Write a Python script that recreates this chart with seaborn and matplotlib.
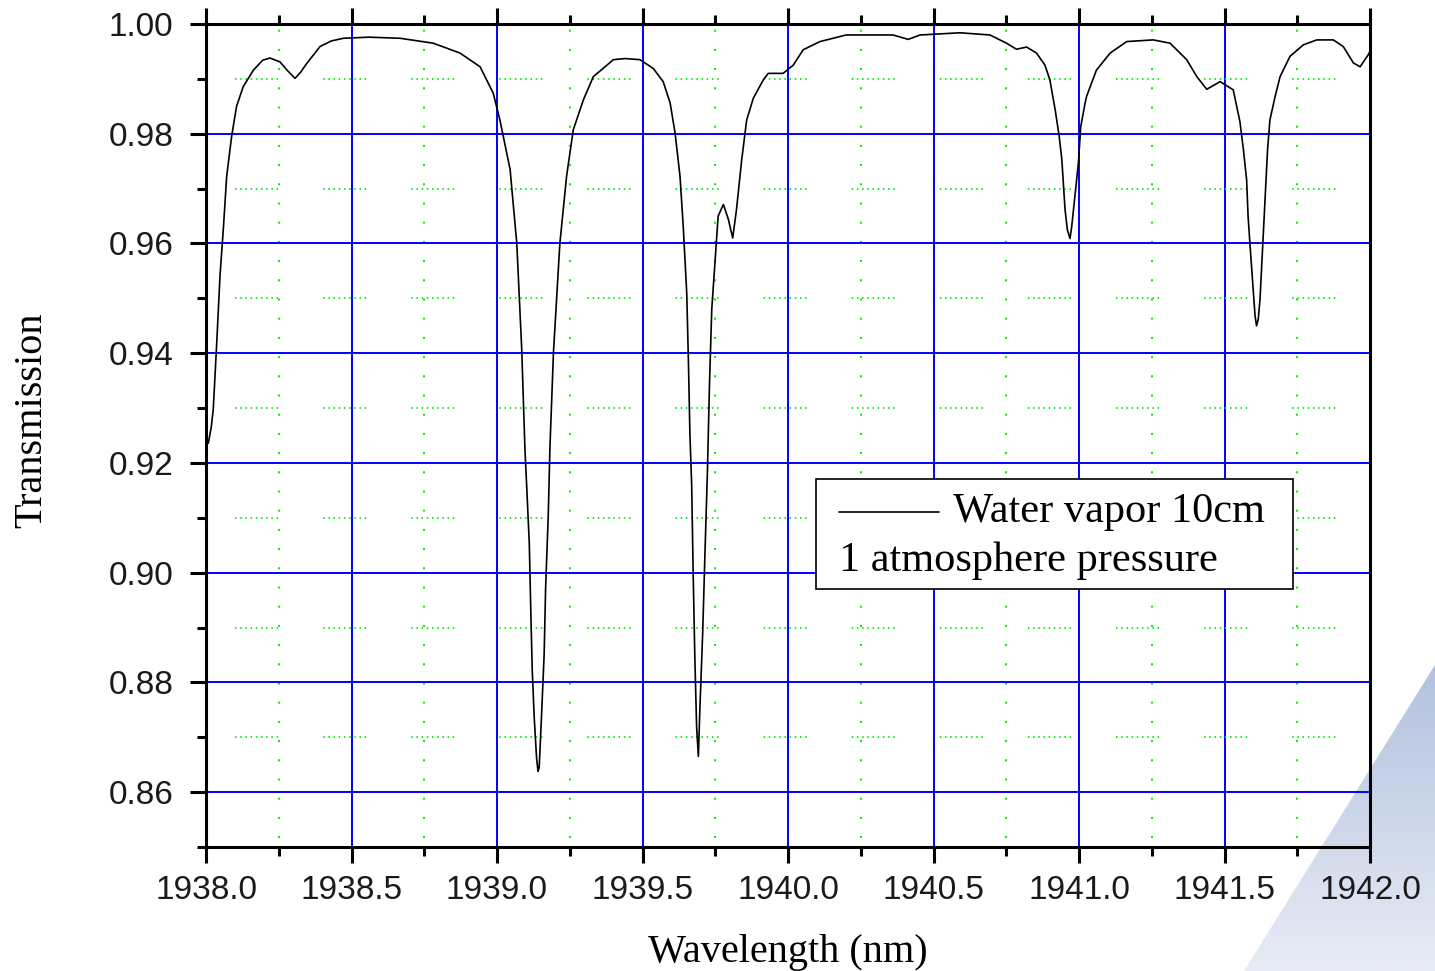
import numpy as np
import pandas as pd
import matplotlib
matplotlib.use("Agg")
import matplotlib.pyplot as plt
import seaborn as sns
from matplotlib import font_manager as fm
from matplotlib.colors import LinearSegmentedColormap
from matplotlib.patches import Polygon
from matplotlib.lines import Line2D
from matplotlib.offsetbox import AnchoredOffsetbox, DrawingArea, TextArea, HPacker, VPacker
from matplotlib.ticker import MultipleLocator, FormatStrFormatter

# ---------------- data ----------------
wavelength_nm = [
    1938.000, 1938.008, 1938.018, 1938.025, 1938.037, 1938.048, 1938.060, 1938.071,
    1938.088, 1938.105, 1938.128, 1938.163, 1938.195, 1938.220, 1938.254, 1938.280,
    1938.306, 1938.325, 1938.346, 1938.392, 1938.430, 1938.472, 1938.560, 1938.667,
    1938.781, 1938.873, 1938.942, 1938.987, 1939.010, 1939.045, 1939.068, 1939.085,
    1939.096, 1939.102, 1939.111, 1939.116, 1939.121, 1939.128, 1939.136, 1939.141,
    1939.145, 1939.154, 1939.162, 1939.167, 1939.176, 1939.182, 1939.194, 1939.216,
    1939.239, 1939.262, 1939.297, 1939.331, 1939.400, 1939.440, 1939.491, 1939.520,
    1939.537, 1939.571, 1939.595, 1939.612, 1939.629, 1939.640, 1939.652, 1939.658,
    1939.663, 1939.669, 1939.674, 1939.680, 1939.686, 1939.692, 1939.697, 1939.707,
    1939.715, 1939.723, 1939.730, 1939.738, 1939.749, 1939.760, 1939.778, 1939.795,
    1939.810, 1939.823, 1939.841, 1939.858, 1939.881, 1939.915, 1939.932, 1939.983,
    1940.018, 1940.052, 1940.110, 1940.200, 1940.361, 1940.413, 1940.454, 1940.591,
    1940.694, 1940.751, 1940.785, 1940.820, 1940.854, 1940.883, 1940.900, 1940.918,
    1940.932, 1940.941, 1940.952, 1940.960, 1940.969, 1940.975, 1940.986, 1940.998,
    1941.006, 1941.021, 1941.026, 1941.060, 1941.107, 1941.164, 1941.255, 1941.313,
    1941.370, 1941.405, 1941.439, 1941.485, 1941.530, 1941.553, 1941.565, 1941.576,
    1941.581, 1941.588, 1941.597, 1941.605, 1941.610, 1941.616, 1941.622, 1941.633,
    1941.641, 1941.648, 1941.656, 1941.674, 1941.691, 1941.725, 1941.771, 1941.817,
    1941.874, 1941.908, 1941.943, 1941.966, 1941.994, 1942.000,
]
transmission = [
    0.9250, 0.9236, 0.9265, 0.9298, 0.9420, 0.9540, 0.9630, 0.9722,
    0.9795, 0.9850, 0.9886, 0.9916, 0.9934, 0.9938, 0.9931, 0.9915,
    0.9901, 0.9912, 0.9928, 0.9959, 0.9969, 0.9974, 0.9976, 0.9974,
    0.9965, 0.9947, 0.9922, 0.9874, 0.9825, 0.9735, 0.9600, 0.9407,
    0.9225, 0.9158, 0.9053, 0.8933, 0.8824, 0.8735, 0.8662, 0.8638,
    0.8645, 0.8751, 0.8851, 0.8971, 0.9102, 0.9230, 0.9401, 0.9600,
    0.9722, 0.9807, 0.9862, 0.9904, 0.9935, 0.9937, 0.9935, 0.9925,
    0.9919, 0.9895, 0.9856, 0.9801, 0.9722, 0.9631, 0.9510, 0.9380,
    0.9251, 0.9160, 0.9002, 0.8842, 0.8718, 0.8665, 0.8749, 0.8893,
    0.9042, 0.9182, 0.9340, 0.9480, 0.9565, 0.9650, 0.9671, 0.9644,
    0.9610, 0.9662, 0.9753, 0.9825, 0.9865, 0.9898, 0.9910, 0.9910,
    0.9925, 0.9953, 0.9968, 0.9980, 0.9980, 0.9972, 0.9980, 0.9984,
    0.9980, 0.9965, 0.9954, 0.9958, 0.9947, 0.9925, 0.9898, 0.9844,
    0.9795, 0.9753, 0.9662, 0.9625, 0.9609, 0.9631, 0.9686, 0.9747,
    0.9813, 0.9856, 0.9868, 0.9916, 0.9947, 0.9968, 0.9971, 0.9965,
    0.9935, 0.9904, 0.9881, 0.9895, 0.9880, 0.9822, 0.9771, 0.9716,
    0.9650, 0.9595, 0.9529, 0.9468, 0.9450, 0.9462, 0.9498, 0.9613,
    0.9698, 0.9771, 0.9825, 0.9868, 0.9904, 0.9941, 0.9962, 0.9971,
    0.9971, 0.9959, 0.9929, 0.9922, 0.9944, 0.9950,
]
x_label = "Wavelength (nm)"
y_label = "Transmission"
legend_line1 = "Water vapor 10cm"
legend_line2 = "1 atmosphere pressure"

df = pd.DataFrame({"wavelength": wavelength_nm, "transmission": transmission})

# ---------------- style ----------------
sns.set_style("white")
names = {f.name for f in fm.fontManager.ttflist}
SERIF = "Liberation Serif" if "Liberation Serif" in names else "DejaVu Serif"
SANS = "Liberation Sans" if "Liberation Sans" in names else "DejaVu Sans"
plt.rcParams["font.family"] = [SANS, "DejaVu Sans"]
plt.rcParams["lines.scale_dashes"] = False

PX = 0.72  # points per pixel at dpi 100

fig = plt.figure(figsize=(14.35, 9.71), dpi=100)
fig.patch.set_facecolor("white")

# decorative background triangle (bottom-right)
bg = fig.add_axes([0, 0, 1, 1], zorder=0)
bg.set_xlim(0, 1435)
bg.set_ylim(971, 0)
bg.axis("off")
cmap = LinearSegmentedColormap.from_list("bgtri", ["#b2c1df", "#cdd7ea", "#e8ecf5"])
grad = np.linspace(0, 1, 256).reshape(-1, 1)
im = bg.imshow(grad, extent=[1230, 1435, 971, 665], cmap=cmap, aspect="auto",
               interpolation="bilinear")
tri = Polygon([(1435, 665), (1244, 971), (1435, 971)], closed=True,
              facecolor="none", edgecolor="none")
bg.add_patch(tri)
im.set_clip_path(tri)

ax = fig.add_axes([206 / 1435, 1 - 847 / 971, 1164 / 1435, 823 / 971], zorder=1)
ax.set_facecolor("none")

sns.lineplot(data=df, x="wavelength", y="transmission", ax=ax, color="black",
             linewidth=1.2, estimator=None, sort=False, legend=False, zorder=3)

ax.set_xlim(1938.0, 1942.0)
ax.set_ylim(0.85, 1.00)
ax.xaxis.set_major_locator(MultipleLocator(0.5))
ax.xaxis.set_minor_locator(MultipleLocator(0.25))
ax.yaxis.set_major_locator(MultipleLocator(0.02))
ax.yaxis.set_minor_locator(MultipleLocator(0.01))
ax.xaxis.set_major_formatter(FormatStrFormatter("%.1f"))
ax.yaxis.set_major_formatter(FormatStrFormatter("%.2f"))

ax.set_axisbelow(True)
ax.grid(which="major", color="#0000ff", linewidth=1.4)
h_pat = [1.5 * PX, 3.7 * PX] * 8 + [1.5 * PX, 45.0 * PX]
ax.grid(which="minor", axis="y", color="#00f000", linewidth=1.3,
        linestyle=(59.1 * PX, h_pat))
ax.grid(which="minor", axis="x", color="#00f000", linewidth=1.5,
        linestyle=(10.3 * PX, [2.0 * PX, 17.2 * PX]))

for s in ax.spines.values():
    s.set_visible(True)
    s.set_color("black")
    s.set_linewidth(2.2)

ax.tick_params(which="both", direction="out", top=True, bottom=True, left=True,
               right=False, labeltop=False, labelright=False, width=2.2,
               color="black")
ax.tick_params(which="major", length=11.5)
ax.tick_params(which="minor", length=6.5)
ax.tick_params(axis="x", which="major", pad=8.5, labelsize=24, labelcolor="#1a1a1a")
ax.tick_params(axis="y", which="major", pad=12, labelsize=24, labelcolor="#1a1a1a")

ax.set_xlabel(x_label, fontsize=29, family=[SERIF], color="black")
ax.set_ylabel(y_label, fontsize=29, family=[SERIF], color="black")
ax.xaxis.set_label_coords(0.5, -0.106)
ax.yaxis.set_label_coords(-0.134, 0.518)

# legend box built from offsetboxes
tprops = dict(fontsize=30.5, family=[SERIF], color="black")
da = DrawingArea(72, 20, 0, 0)
da.add_artist(Line2D([0, 72], [10, 10], color="black", linewidth=1.2))
row1 = HPacker(children=[da, TextArea(legend_line1, textprops=tprops)],
               align="center", pad=0, sep=10)
row2 = TextArea(legend_line2, textprops=tprops)
rows = VPacker(children=[row1, row2], align="left", pad=0, sep=7)
top_sp = DrawingArea(1, 3.6, 0, 0)
col = VPacker(children=[top_sp, rows], align="left", pad=0, sep=0)
sp_l = DrawingArea(10, 1, 0, 0)
sp_r = DrawingArea(14, 1, 0, 0)
content = HPacker(children=[sp_l, col, sp_r], align="center", pad=0, sep=0)
box = AnchoredOffsetbox(loc="upper left", child=content, pad=0.22, borderpad=0,
                        frameon=True, bbox_to_anchor=(0.524, 0.447),
                        bbox_transform=ax.transAxes, prop=dict(size=29))
box.patch.set_edgecolor("black")
box.patch.set_linewidth(1.2)
box.patch.set_facecolor("white")
box.patch.set_boxstyle("square", pad=0)
box.set_zorder(5)
ax.add_artist(box)

fig.savefig("out.png", dpi=100, facecolor="white")
